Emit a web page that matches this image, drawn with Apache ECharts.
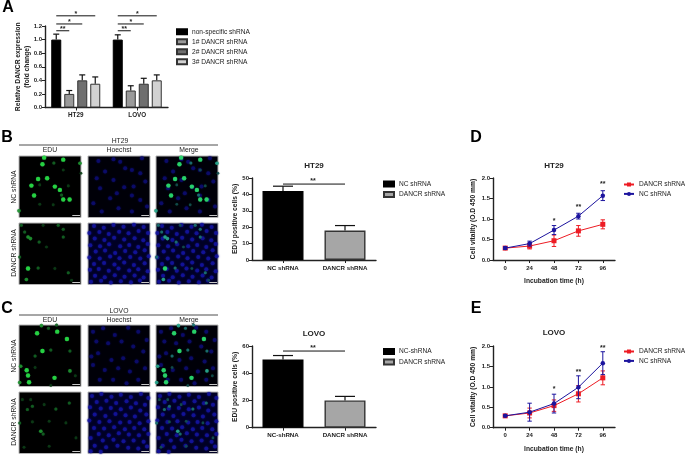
<!DOCTYPE html>
<html><head><meta charset="utf-8">
<style>html,body{margin:0;padding:0;background:#fff}#c{width:685px;height:455px}</style>
<script src="https://cdn.jsdelivr.net/npm/echarts@6/dist/echarts.min.js"></script>
</head><body><div id="c"></div>
<script>
// ---------- Panel A ----------
const aCats = ['HT29', 'LOVO'];
const aNames = ['non-specific shRNA', '1# DANCR shRNA', '2# DANCR shRNA', '3# DANCR shRNA'];
const aVals = [[1.0, 1.0], [0.2, 0.25], [0.4, 0.35], [0.35, 0.4]];
const aTops = [[1.08, 1.07], [0.25, 0.32], [0.48, 0.43], [0.45, 0.48]];
// category, last bar index, height, stars
const aSig = [[0, 3, 1.35, '*'], [0, 2, 1.23, '*'], [0, 1, 1.13, '**'], [1, 3, 1.35, '*'], [1, 2, 1.23, '*'], [1, 1, 1.13, '**']];
// ---------- Panels B / C bars ----------
const bCats = ['NC shRNA', 'DANCR shRNA'];
const bVals = [42, 18];
const bTops = [45, 21];
const bSig = [46.3];
const cCats = ['NC-shRNA', 'DANCR shRNA'];
const cVals = [50, 20];
const cTops = [53, 23];
const cSig = [56.3];
// ---------- Panels D / E growth ----------
const hours = ['0', '24', '48', '72', '96'];
const dDancr = [0.29, 0.34, 0.47, 0.71, 0.87];
const dDancrErr = [0.03, 0.07, 0.14, 0.13, 0.11];
const dNc = [0.29, 0.40, 0.73, 1.07, 1.57];
const dNcErr = [0.03, 0.06, 0.11, 0.07, 0.12];
const dStars = [[2, 0.94, '*'], [3, 1.28, '**'], [4, 1.84, '**']];
const eDancr = [0.29, 0.36, 0.54, 0.83, 1.22];
const eDancrErr = [0.02, 0.12, 0.14, 0.20, 0.17];
const eNc = [0.29, 0.38, 0.59, 0.99, 1.58];
const eNcErr = [0.02, 0.22, 0.23, 0.28, 0.28];
const eStars = [[2, 0.94, '*'], [3, 1.35, '**'], [4, 1.94, '**']];
// ---------- Micrographs: nuclei [x, y, brightness] ----------
const eduB1 = [[75,5,3],[70,25,3],[132,11,3],[104,21,1],[57,69,3],[84,67,3],[37,89,3],[107,92,3],[122,102,3],[45,119,3],[132,131,3],[151,131,3],[127,117,1],[0,165,2],[182,22,2],[62,87,0],[147,90,0],[132,42,0],[62,145,0],[102,147,0],[185,52,0]];
const hoeB1 = [[31,15],[76,10],[161,7],[131,42],[51,47],[111,37],[26,67],[76,72],[108,94],[136,92],[171,77],[131,119],[156,132],[36,97],[16,142],[66,127],[91,157],[131,167],[176,152],[41,167],[96,17],[156,52],[86,112]];
const eduB2 = [[34,47,2],[27,42,2],[27,137,3],[22,170,2],[7,7,1],[60,57,1],[117,7,1],[132,19,1],[132,42,1],[57,135,1],[147,150,1],[157,172,0],[2,102,1],[107,137,0],[72,7,0],[82,72,0],[17,27,1]];
const hoeB2 = [[18,9],[47,14],[76,6],[106,11],[137,5],[166,12],[4,30],[34,27],[62,33],[93,26],[121,31],[151,24],[179,30],[20,47],[49,51],[78,44],[108,50],[139,46],[165,52],[7,67],[36,70],[63,64],[96,70],[123,66],[150,72],[178,63],[23,86],[51,83],[81,90],[111,84],[141,88],[169,82],[4,104],[35,107],[66,101],[94,106],[126,102],[156,107],[181,100],[18,123],[48,120],[79,125],[108,119],[137,126],[169,121],[6,141],[32,138],[62,144],[91,137],[123,143],[150,139],[178,145],[21,159],[50,163],[80,157],[109,162],[139,158],[166,164],[9,177],[39,174],[68,179],[98,175],[128,178],[155,173]];
const eduC1 = [[67,2,2],[112,0,1],[88,10,1],[54,25,3],[114,20,3],[143,42,3],[70,78,3],[95,75,1],[152,78,1],[48,93,1],[5,124,2],[23,136,3],[27,152,3],[30,172,3],[2,173,2],[106,159,3],[152,138,2],[168,153,0],[48,128,0],[95,182,0]];
const hoeC1 = [[15,20],[45,10],[80,30],[120,8],[150,20],[175,45],[25,50],[60,55],[100,50],[135,65],[165,80],[30,85],[70,105],[105,100],[145,110],[15,120],[50,135],[90,130],[125,140],[170,130],[35,165],[75,165],[115,175],[150,165],[10,95]];
const eduC2 = [[25,53,1],[40,43,1],[65,118,2],[72,126,1],[110,51,1],[150,33,1],[2,93,1],[40,90,0],[90,88,0],[10,23,0],[35,23,0],[75,38,0],[15,166,0],[90,163,0],[170,138,0],[140,93,0]];
const hoeC2 = [[12,12],[40,6],[70,14],[98,8],[128,15],[158,6],[180,18],[26,30],[55,26],[84,33],[115,28],[143,34],[170,38],[6,46],[38,50],[68,48],[98,52],[128,47],[156,56],[20,68],[52,72],[82,66],[112,70],[140,74],[174,68],[4,86],[34,90],[64,88],[96,92],[124,90],[154,94],[180,88],[18,108],[48,110],[78,106],[110,112],[138,108],[168,112],[32,126],[62,130],[92,124],[122,128],[152,130],[180,126],[8,138],[44,146],[76,144],[106,148],[136,146],[166,150],[20,162],[54,166],[88,162],[120,168],[150,170],[176,164],[8,178],[38,180]];
const scaleBar = [[159, 179], [182, 179]];

const FONT = '"Liberation Sans", Arial, sans-serif';
const INK = '#222';
const option = { animation: false, backgroundColor: '#fff', grid: [], xAxis: [], yAxis: [], series: [], legend: [], graphic: [] };

function addGrid(rect, x, y) {
  const i = option.grid.length;
  option.grid.push(Object.assign({ containLabel: false }, rect));
  option.xAxis.push(Object.assign({ gridIndex: i }, x));
  option.yAxis.push(Object.assign({ gridIndex: i }, y));
  return i;
}
function addText(text, x, y, o) {
  o = o || {};
  option.graphic.push({ type: 'text', x, y, rotation: o.rot || 0, silent: true,
    style: { text, font: (o.weight || 'normal') + ' ' + (o.size || 6.8) + 'px ' + FONT, fill: o.fill || INK, textAlign: o.align || 'center', textVerticalAlign: 'middle' } });
}
const axisLine = { show: true, lineStyle: { color: INK, width: 1.4 } };
const axisTick = { show: true, length: 3, lineStyle: { color: INK, width: 1 } };
function catAxis(data, size, extra) {
  return Object.assign({ type: 'category', data, axisLine, axisTick: Object.assign({ alignWithLabel: true }, axisTick),
    axisLabel: { fontFamily: FONT, fontWeight: 'bold', fontSize: size, color: INK, margin: 5, interval: 0 } }, extra || {});
}
function valAxis(min, max, interval, name, gap, fmt) {
  return { type: 'value', min, max, interval, name, nameLocation: 'middle', nameGap: gap, nameRotate: 90, nameMoveOverlap: false,
    nameTextStyle: { fontFamily: FONT, fontWeight: 'bold', fontSize: 6.7, color: INK, lineHeight: 9 },
    splitLine: { show: false }, axisLine, axisTick,
    axisLabel: { fontFamily: FONT, fontWeight: 'bold', fontSize: 6, color: INK, margin: 3, formatter: fmt } };
}
function addLegend(left, top, key, names, gap, icon) {
  const l = { left, top, orient: 'vertical', data: names.map(n => key + '|' + n), itemWidth: 10, itemHeight: 5, itemGap: gap, padding: 0,
    selectedMode: false, textStyle: { fontFamily: FONT, fontSize: 6.6, color: INK }, formatter: n => n.split('|')[1] };
  if (icon) l.icon = icon;
  option.legend.push(l);
}
// error bars: data [category, low, high]; offset() gives horizontal shift from category centre
function errorSeries(g, data, cap, color, lw, offset, z) {
  return { type: 'custom', xAxisIndex: g, yAxisIndex: g, silent: true, z: z || 3, data,
    renderItem(p, api) {
      const c = api.value(0), lo = api.coord([c, api.value(1)]), hi = api.coord([c, api.value(2)]);
      const dx = offset ? offset(api) : 0, x = lo[0] + dx;
      const st = { stroke: color, lineWidth: lw };
      const kids = [{ type: 'line', shape: { x1: x, y1: lo[1], x2: x, y2: hi[1] }, style: st },
        { type: 'line', shape: { x1: x - cap, y1: hi[1], x2: x + cap, y2: hi[1] }, style: st }];
      if (api.value(3)) kids.push({ type: 'line', shape: { x1: x - cap, y1: lo[1], x2: x + cap, y2: lo[1] }, style: st });
      return { type: 'group', children: kids };
    } };
}
function starText(x, y, text) {
  return { type: 'text', style: { text, x, y, font: 'bold 7px ' + FONT, fill: INK, textAlign: 'center', textVerticalAlign: 'middle' } };
}

// ---------- Panel A ----------
(function () {
  const g = addGrid({ left: 45, top: 26, width: 123, height: 81.5 }, catAxis(aCats, 6.3),
    valAxis(0, 1.2, 0.2, 'Relative DANCR expression\n(fold change)', 13, v => v.toFixed(1)));
  const colors = ['#000', '#9a9a9a', '#6f6f6f', '#d2d2d2'];
  const layoutOpt = { count: 4, barWidth: 10, barGap: '30%' };
  aNames.forEach((n, i) => {
    option.series.push({ type: 'bar', name: 'A|' + n, xAxisIndex: g, yAxisIndex: g, data: aVals[i], barWidth: 10, barGap: '30%',
      itemStyle: { color: colors[i], borderColor: i ? '#333' : '#000', borderWidth: 1 } });
    option.series.push(errorSeries(g, aCats.map((_, c) => [c, aVals[i][c], aTops[i][c]]), 3, '#111', 1.2, api => api.barLayout(layoutOpt)[i].offsetCenter));
  });
  option.series.push({ type: 'custom', xAxisIndex: g, yAxisIndex: g, silent: true, z: 4, data: aSig,
    renderItem(p, api) {
      const lay = api.barLayout(layoutOpt), c = api.value(0), pt = api.coord([c, api.value(2)]);
      const x1 = pt[0] + lay[0].offsetCenter, x2 = pt[0] + lay[api.value(1)].offsetCenter;
      return { type: 'group', children: [{ type: 'line', shape: { x1, y1: pt[1], x2, y2: pt[1] }, style: { stroke: '#111', lineWidth: 1 } },
        starText((x1 + x2) / 2, pt[1] - 1.5, aSig[p.dataIndex][3])] };
    } });
  addLegend(176, 28.2, 'A', aNames, 3, 'rect');
})();

// ---------- Panels B / C bars ----------
function edBars(key, top, height, cats, vals, tops, max, step, sig, legendTop) {
  const g = addGrid({ left: 252, top, width: 124, height }, catAxis(cats, 6.2),
    valAxis(0, max, step, 'EDU positive cells (%)', 12.5));
  const colors = ['#000', '#a6a6a6'];
  cats.forEach((n, i) => {
    option.series.push({ type: 'bar', name: key + '|' + n, xAxisIndex: g, yAxisIndex: g, barWidth: 41, barGap: '-100%',
      data: cats.map((_, c) => c === i ? vals[c] : null),
      itemStyle: { color: colors[i], borderColor: i ? '#333' : '#000', borderWidth: 1.4 } });
  });
  option.series.push(errorSeries(g, cats.map((_, c) => [c, vals[c], tops[c]]), 10, '#111', 1.2));
  option.series.push({ type: 'custom', xAxisIndex: g, yAxisIndex: g, silent: true, z: 4, data: sig.map(v => [0, v]),
    renderItem(p, api) {
      const a = api.coord([0, api.value(1)]), b = api.coord([1, api.value(1)]);
      return { type: 'group', children: [{ type: 'line', shape: { x1: a[0], y1: a[1], x2: b[0], y2: a[1] }, style: { stroke: '#111', lineWidth: 1 } },
        starText((a[0] + b[0]) / 2 - 1, a[1] - 3, '**')] };
    } });
  addLegend(383, legendTop, key, cats, 3.4, 'rect');
}
edBars('B', 178, 82, bCats, bVals, bTops, 50, 10, bSig, 180.5);
edBars('C', 346, 81.7, cCats, cVals, cTops, 60, 20, cSig, 348);

// ---------- Panels D / E growth ----------
function growth(key, top, height, dancr, dancrErr, nc, ncErr, stars, legendTop) {
  const g = addGrid({ left: 493, top, width: 122, height }, catAxis(hours, 6, {
      name: 'Incubation time (h)', nameLocation: 'middle', nameGap: 18, nameMoveOverlap: false,
      nameTextStyle: { fontFamily: FONT, fontWeight: 'bold', fontSize: 6.7, color: INK } }),
    valAxis(0, 2, 0.5, 'Cell vitality (O.D 450 mm)', 15.5, v => v.toFixed(1)));
  const mk = (name, data, err, color, symbol, size, z) => {
    option.series.push(errorSeries(g, data.map((v, c) => [c, v - err[c], v + err[c], 1]), 2.2, color, 1, null, z));
    option.series.push({ type: 'line', name: key + '|' + name, xAxisIndex: g, yAxisIndex: g, data, z, symbol, symbolSize: size, showSymbol: true,
      lineStyle: { color, width: 1 }, itemStyle: { color } });
  };
  mk('DANCR shRNA', dancr, dancrErr, '#ed1c24', 'rect', 5, 3);
  mk('NC shRNA', nc, ncErr, '#1c149e', 'circle', 4.5, 4);
  option.series.push({ type: 'custom', xAxisIndex: g, yAxisIndex: g, silent: true, z: 5, data: stars,
    renderItem(p, api) { const pt = api.coord([api.value(0), api.value(1)]); return starText(pt[0], pt[1], stars[p.dataIndex][2]); } });
  addLegend(623, legendTop, key, ['DANCR shRNA', 'NC shRNA'], 2.4);
}
growth('D', 178, 82, dDancr, dDancrErr, dNc, dNcErr, dStars, 181);
growth('E', 346, 81.7, eDancr, eDancrErr, eNc, eNcErr, eStars, 348);

// ---------- Micrographs ----------
const greenBright = { 3: '#2bf04a', 2: '#1f9a30', 1: '#126020', 0: '#0a3512' };
const greenMerge = { 3: '#2cf07a', 2: '#2ab0a0', 1: '#1a7080', 0: '#104858' };
const sizes = { 3: 4.4, 2: 3.6, 1: 3, 0: 2.6 };
function panel(left, top, edu, hoe, hoeColor, palette, bg) {
  const g = addGrid({ left, top, width: 62, height: 61.5, show: true, backgroundColor: bg || '#000', borderColor: '#b5b5b5', borderWidth: 1 },
    { type: 'value', min: 0, max: 185, show: false }, { type: 'value', min: 0, max: 185, inverse: true, show: false });
  if (hoe) option.series.push({ type: 'scatter', xAxisIndex: g, yAxisIndex: g, silent: true, clip: true, data: hoe, symbolSize: 4,
    itemStyle: { color: hoeColor, shadowBlur: 2, shadowColor: hoeColor } });
  if (edu) option.series.push({ type: 'scatter', xAxisIndex: g, yAxisIndex: g, silent: true, clip: true, data: edu, z: 3,
    symbolSize: d => sizes[d[2]],
    itemStyle: { color: p => palette[p.data[2]], shadowBlur: 1, shadowColor: '#1a6a30' } });
  option.series.push({ type: 'line', xAxisIndex: g, yAxisIndex: g, silent: true, z: 5, data: scaleBar, showSymbol: false, symbol: 'none',
    lineStyle: { color: '#c8c8c8', width: 1 } });
}
const cols = [19, 88, 156];
function micro(row1, row2, edu1, hoe1, edu2, hoe2) {
  panel(cols[0], row1, edu1, null, null, greenBright);
  panel(cols[1], row1, null, hoe1, '#0c0c70', null, '#000008');
  panel(cols[2], row1, edu1, hoe1, '#0c0c70', greenMerge, '#000008');
  panel(cols[0], row2, edu2, null, null, greenBright);
  panel(cols[1], row2, null, hoe2, '#1414a0', null, '#000024');
  panel(cols[2], row2, edu2, hoe2, '#1414a0', greenMerge, '#000024');
}
micro(156, 223, eduB1, hoeB1, eduB2, hoeB2);
micro(325, 392, eduC1, hoeC1, eduC2, hoeC2);

// ---------- Header lines and free text ----------
[145, 315].forEach(y => option.graphic.push({ type: 'line', silent: true, shape: { x1: 19, y1: y, x2: 218, y2: y }, style: { stroke: '#222', lineWidth: 0.8 } }));
addText('HT29', 120, 141); addText('LOVO', 119, 311);
[[150.5], [320]].forEach(([y]) => { addText('EDU', 50, y); addText('Hoechst', 119, y); addText('Merge', 189, y); });
[[187, 'NC shRNA'], [253, 'DANCR shRNA'], [356, 'NC shRNA'], [422, 'DANCR shRNA']].forEach(([y, t]) => addText(t, 14, y, { rot: Math.PI / 2 }));
[['A', 8, 8], ['B', 7, 138], ['C', 7, 308.5], ['D', 476, 138], ['E', 476, 308.5]].forEach(([t, x, y]) => addText(t, x, y, { size: 16, weight: 'bold', fill: '#000' }));
addText('HT29', 314, 166, { size: 8, weight: 'bold' });
addText('LOVO', 314, 334, { size: 8, weight: 'bold' });
addText('HT29', 554, 166, { size: 8, weight: 'bold' });
addText('LOVO', 554, 333, { size: 8, weight: 'bold' });

echarts.init(document.getElementById('c'), null, { renderer: 'canvas' }).setOption(option);
</script></body></html>
